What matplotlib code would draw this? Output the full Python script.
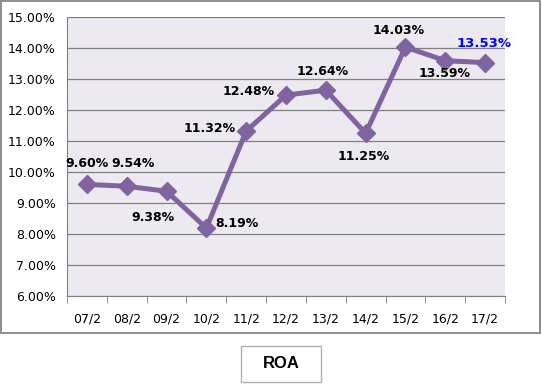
import matplotlib.pyplot as plt
import matplotlib.patches as mpatches
import numpy as np

categories = ["07/2", "08/2", "09/2", "10/2", "11/2", "12/2", "13/2", "14/2", "15/2", "16/2", "17/2"]
roa = [9.60, 9.54, 9.38, 8.19, 11.32, 12.48, 12.64, 11.25, 14.03, 13.59, 13.53]
# label offsets in pixels (dx, dy), screen y up
offsets = [(0, 21), (6, 23), (-14, -26), (31, 5), (-37, 3), (-37, 4), (-3, 19),
           (-2, -23), (-7, 17), (-1, -13), (-1, 19)]

fig = plt.figure(figsize=(5.42, 3.84), dpi=100)
fig.patch.set_facecolor("white")

# outer chart border
fig.patches.append(mpatches.Rectangle((1 / 542, 51 / 384), 539 / 542, 332 / 384,
                                      transform=fig.transFigure, fill=False,
                                      edgecolor="#8c8c8c", linewidth=1.4))

ax = fig.add_axes([67 / 542, 88 / 384, 438 / 542, 279 / 384])
ax.set_facecolor("#ECEAF0")

x = np.arange(len(categories))
ax.plot(x, roa, color="#8064A2", linewidth=3.6, marker="D", markersize=9,
        markerfacecolor="#8064A2", markeredgecolor="#8064A2", zorder=3)

for i, v in enumerate(roa):
    dx, dy = offsets[i]
    last = i == len(roa) - 1
    ax.annotate(f"{v:.2f}%", (x[i], v), xytext=(dx * 0.72, dy * 0.72),
                textcoords="offset points", ha="center", va="center",
                fontsize=9.5 if last else 9, fontweight="heavy",
                color="#0000FF" if last else "black", zorder=4)

ax.set_xlim(-0.5, len(categories) - 0.5)
ax.set_ylim(6, 15)
ax.set_yticks(np.arange(6, 15.01, 1))
ax.set_yticklabels([f"{t:.2f}%" for t in np.arange(6, 15.01, 1)], fontsize=9)
ax.set_xticks(x)
ax.set_xticklabels(categories, fontsize=9)
ax.set_xticks(np.arange(-0.5, len(categories), 1), minor=True)
ax.tick_params(axis="x", which="major", length=0, pad=12)
ax.tick_params(axis="x", which="minor", length=5, color="#808080", direction="out")
ax.tick_params(axis="y", length=0, pad=8)
ax.grid(axis="y", color="#808080", linewidth=0.9)
ax.set_axisbelow(True)
for s in ["top", "right"]:
    ax.spines[s].set_visible(False)
for s in ["left", "bottom"]:
    ax.spines[s].set_color("#808080")

# title box at bottom
fig.patches.append(mpatches.Rectangle((241 / 542, 2 / 384), 80 / 542, 36 / 384,
                                      transform=fig.transFigure, fill=False,
                                      edgecolor="#b0b0b0", linewidth=1))
fig.text(281 / 542, 20 / 384, "ROA", ha="center", va="center", fontsize=12,
         fontweight="bold", family="Liberation Sans")

fig.savefig("out.png", dpi=100)
